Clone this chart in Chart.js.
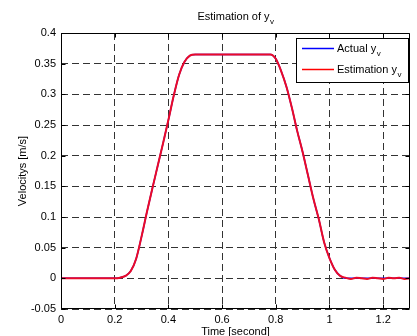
<!DOCTYPE html>
<html><head><meta charset="utf-8">
<script src="https://cdn.jsdelivr.net/npm/chart.js@4"></script>
<style>html,body{margin:0;padding:0;background:#fff}#wrap{width:417px;height:336px}</style>
</head><body><div id="wrap"><canvas id="c" width="417" height="336"></canvas></div>
<script>
const times = [0,0.1,0.2,0.22,0.24,0.26,0.28,0.30,0.32,0.34,0.36,0.38,0.40,0.42,0.44,0.46,0.48,0.50,0.60,0.70,0.78,0.80,0.82,0.84,0.86,0.88,0.90,0.92,0.94,0.96,0.98,1.00,1.02,1.04,1.06,1.08,1.10,1.12,1.14,1.16,1.18,1.20,1.22,1.24,1.26,1.28,1.30];
const actualY = [0,0,0,0.001,0.004,0.012,0.032,0.068,0.108,0.146,0.183,0.220,0.258,0.298,0.332,0.353,0.363,0.365,0.365,0.365,0.365,0.358,0.338,0.312,0.278,0.240,0.206,0.168,0.130,0.097,0.059,0.033,0.014,0.004,0,0,0,0,0,0,0,0,0,0,0,0,0];
const estimY = [0,0,0,0.001,0.004,0.012,0.032,0.068,0.108,0.146,0.183,0.220,0.258,0.298,0.332,0.353,0.363,0.365,0.365,0.365,0.365,0.358,0.338,0.312,0.278,0.240,0.206,0.168,0.130,0.097,0.059,0.033,0.014,0.004,0.001,-0.001,0.001,0,-0.001,0.001,0,-0.001,0.001,0,0.001,-0.001,0];
const xTicks = [0,0.2,0.4,0.6,0.8,1,1.2];
const yTicks = [-0.05,0,0.05,0.1,0.15,0.2,0.25,0.3,0.35,0.4];
const titleText = "Estimation of y";
const titleSub = "v";
const xTitle = "Time [second]";
const yTitle = "Velocitys [m/s]";
const legendItems = [{label:"Actual y", sub:"v", color:"#0000ff"},{label:"Estimation y", sub:"v", color:"#ff0000"}];

const FONT = '"Liberation Sans", Arial, sans-serif';
const toPts = ys => times.map((t,i)=>({x:t,y:ys[i]}));

const deco = {
  id:'deco',
  afterDraw(chart){
    const ctx = chart.ctx, a = chart.chartArea, xs = chart.scales.x, ys = chart.scales.y;
    ctx.save();
    ctx.strokeStyle = '#000'; ctx.lineWidth = 1;
    const L = Math.round(a.left)+0.5, R = Math.round(a.right)-0.5, T = Math.round(a.top)+0.5, B = Math.round(a.bottom)-0.5;
    ctx.beginPath();
    ctx.rect(L, T, R-L, B-T);
    xTicks.forEach(v=>{const p=Math.round(xs.getPixelForValue(v))+0.5; ctx.moveTo(p,B); ctx.lineTo(p,B-4); ctx.moveTo(p,T); ctx.lineTo(p,T+4);});
    yTicks.forEach(v=>{const p=Math.round(ys.getPixelForValue(v))+0.5; ctx.moveTo(L,p); ctx.lineTo(L+4,p); ctx.moveTo(R,p); ctx.lineTo(R-4,p);});
    ctx.stroke();
    // title
    ctx.fillStyle = '#000';
    ctx.font = '11px ' + FONT;
    const tw = ctx.measureText(titleText).width;
    ctx.font = '8px ' + FONT;
    const sw = ctx.measureText(titleSub).width;
    const cx = (a.left + a.right)/2;
    let x0 = cx - (tw+sw)/2;
    ctx.textBaseline = 'alphabetic'; ctx.textAlign = 'left';
    ctx.font = '11px ' + FONT; ctx.fillText(titleText, x0, 20);
    ctx.font = '8px ' + FONT; ctx.fillText(titleSub, x0+tw+0.5, 24);
    // x title
    ctx.font = '11px ' + FONT; ctx.textAlign='center';
    ctx.fillText(xTitle, cx, 335);
    // y title
    ctx.save(); ctx.translate(26, (a.top+a.bottom)/2); ctx.rotate(-Math.PI/2);
    ctx.fillText(yTitle, 0, 0); ctx.restore();
    // legend
    const bx = 296.5, by = 38.5, bw = 112, bh = 44;
    ctx.fillStyle = '#fff'; ctx.fillRect(bx, by, bw, bh);
    ctx.strokeStyle = '#000'; ctx.lineWidth = 1; ctx.strokeRect(bx, by, bw, bh);
    legendItems.forEach((it,i)=>{
      const yy = 48.5 + i*21;
      ctx.strokeStyle = it.color; ctx.lineWidth = 1.5;
      ctx.beginPath(); ctx.moveTo(302, yy); ctx.lineTo(334, yy); ctx.stroke();
      ctx.fillStyle = '#000'; ctx.textAlign='left';
      ctx.font = '11px ' + FONT; ctx.fillText(it.label, 337, yy+3);
      const w = ctx.measureText(it.label).width;
      ctx.font = '8px ' + FONT; ctx.fillText(it.sub, 337+w+0.5, yy+7);
    });
    ctx.restore();
  }
};

new Chart(document.getElementById('c'), {
  type:'line',
  data:{datasets:[
    {label:'Estimation', data:toPts(estimY), borderColor:'rgb(235,10,40)', borderWidth:2, pointRadius:0, cubicInterpolationMode:'monotone', order:0},
    {label:'Actual', data:toPts(actualY), borderColor:'#0000ff', borderWidth:1.5, pointRadius:0, cubicInterpolationMode:'monotone', order:1}
  ]},
  options:{
    responsive:false, animation:false,
    layout:{padding:{top:33,right:7,left:0,bottom:0}},
    plugins:{legend:{display:false}, title:{display:false}, tooltip:{enabled:false}},
    scales:{
      x:{type:'linear', min:0, max:1.3, afterFit(s){s.height=27;},
        afterBuildTicks(s){s.ticks = xTicks.map(v=>({value:v}));},
        ticks:{padding:4, color:'#000', font:{family:FONT,size:11}, callback:v=>String(Number(v.toFixed(2)))},
        border:{display:false, dash:[7,4]},
        grid:{drawTicks:false, color:'#333', lineWidth:1}
      },
      y:{type:'linear', min:-0.05, max:0.4, afterFit(s){s.width=61;},
        afterBuildTicks(s){s.ticks = yTicks.map(v=>({value:v}));},
        ticks:{padding:5, color:'#000', font:{family:FONT,size:11}, callback:v=>String(Number(v.toFixed(2)))},
        border:{display:false, dash:[7,4]},
        grid:{drawTicks:false, color:'#333', lineWidth:1}
      }
    }
  },
  plugins:[deco]
});
</script></body></html>
